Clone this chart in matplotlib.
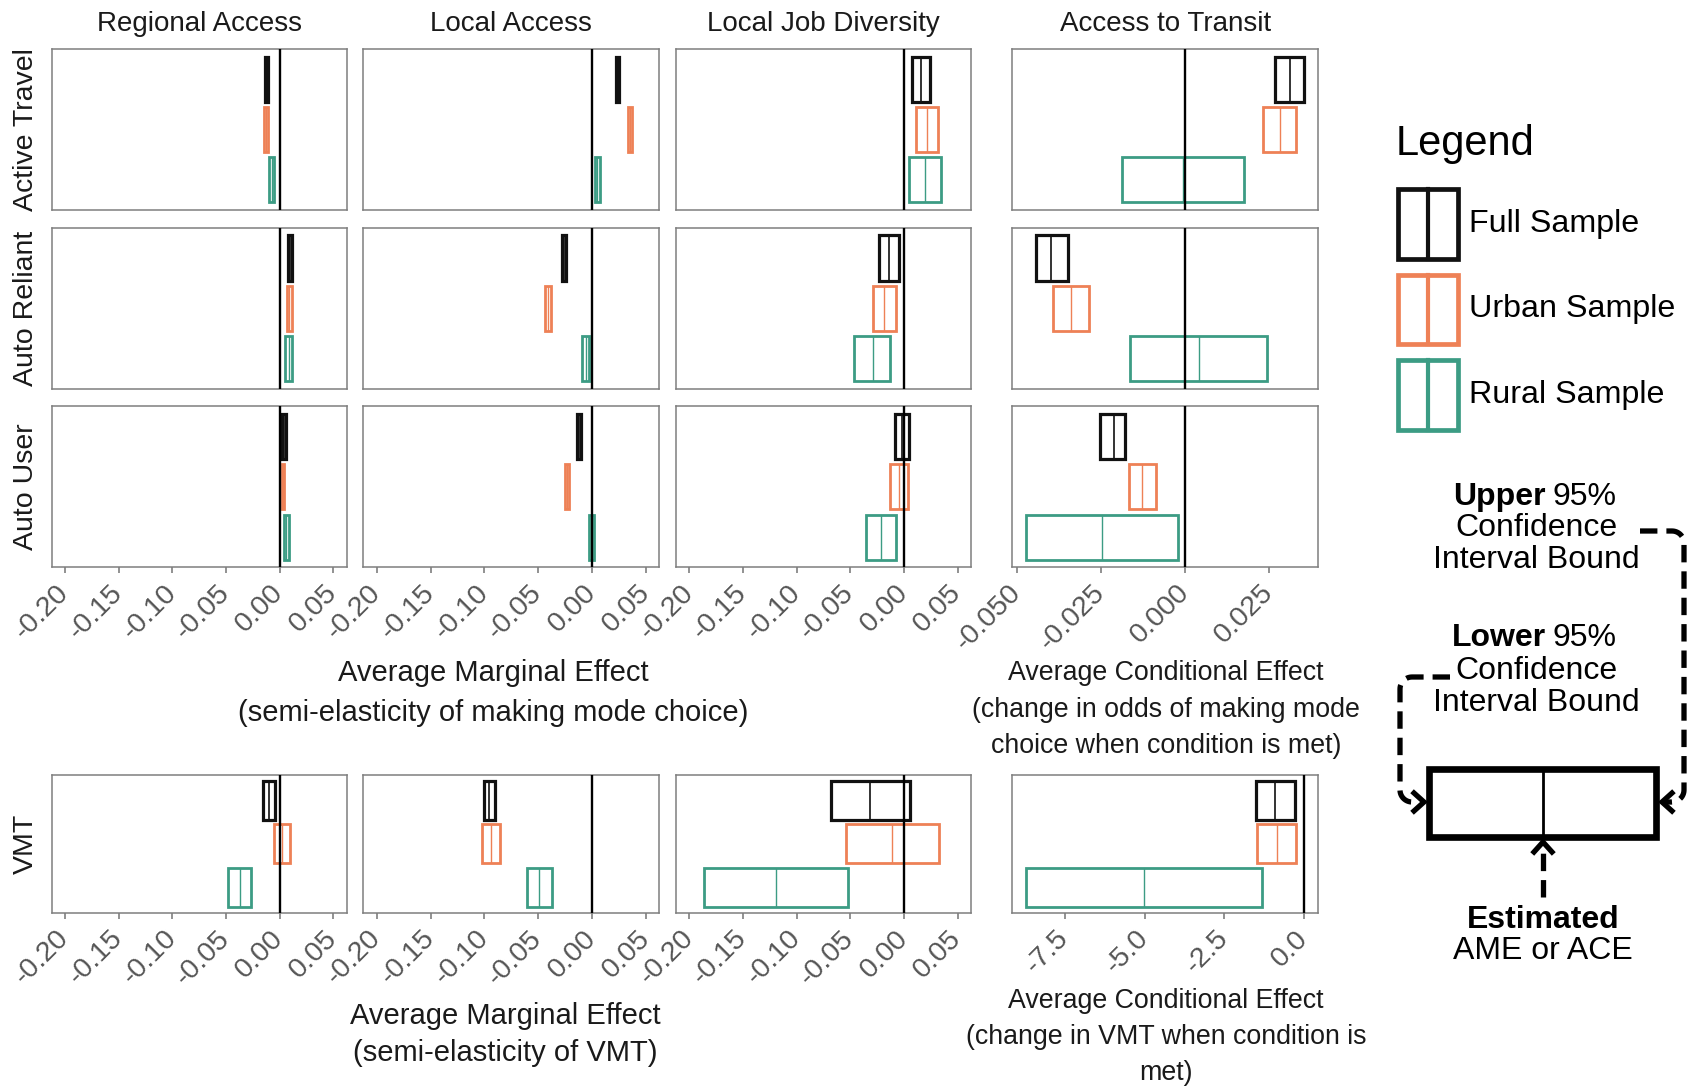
import numpy as np
import matplotlib
matplotlib.use("Agg")
import matplotlib.pyplot as plt
from matplotlib.patches import Rectangle

plt.rcParams['font.family'] = ['Liberation Sans', 'DejaVu Sans']

# ------------------------------------------------------------------ data
outcomes = ['Active Travel', 'Auto Reliant', 'Auto User', 'VMT']
variables = ['Regional Access', 'Local Access', 'Local Job Diversity', 'Access to Transit']
samples = ['Full Sample', 'Urban Sample', 'Rural Sample']
sample_colors = ['#111111', '#EE8156', '#3C9C84']

# rows = outcomes, columns = Full / Urban / Rural
regional_lo = [[-0.0134, -0.0142, -0.0097], [0.0081, 0.0069, 0.0052], [0.0023, 0.0019, 0.0036], [-0.0155, -0.0051, -0.0483]]
regional_est = [[-0.0120, -0.0124, -0.0075], [0.0100, 0.0090, 0.0083], [0.0040, 0.0030, 0.0060], [-0.0097, 0.0021, -0.0374]]
regional_hi = [[-0.0106, -0.0106, -0.0052], [0.0118, 0.0113, 0.0113], [0.0059, 0.0043, 0.0084], [-0.0040, 0.0093, -0.0268]]

local_lo = [[0.0223, 0.0331, 0.0023], [-0.0279, -0.0433, -0.0089], [-0.0139, -0.0255, -0.0029], [-0.1006, -0.1023, -0.0604]]
local_est = [[0.0237, 0.0353, 0.0047], [-0.0259, -0.0409, -0.0060], [-0.0122, -0.0234, -0.0003], [-0.0955, -0.0938, -0.0490]]
local_hi = [[0.0251, 0.0375, 0.0072], [-0.0239, -0.0385, -0.0031], [-0.0106, -0.0214, 0.0022], [-0.0904, -0.0854, -0.0371]]

jobdiv_lo = [[0.0074, 0.0113, 0.0046], [-0.0235, -0.0289, -0.0466], [-0.0087, -0.0129, -0.0356], [-0.0684, -0.0544, -0.1864]]
jobdiv_est = [[0.0156, 0.0211, 0.0199], [-0.0141, -0.0184, -0.0293], [-0.0020, -0.0047, -0.0215], [-0.0316, -0.0109, -0.1191]]
jobdiv_hi = [[0.0243, 0.0313, 0.0344], [-0.0046, -0.0077, -0.0128], [0.0048, 0.0036, -0.0074], [0.0052, 0.0325, -0.0519]]

transit_lo = [[0.0268, 0.0230, -0.0188], [-0.0446, -0.0395, -0.0164], [-0.0253, -0.0169, -0.0474], [-1.52, -1.49, -8.70]]
transit_est = [[0.0311, 0.0280, -0.0006], [-0.0399, -0.0341, 0.0039], [-0.0214, -0.0128, -0.0247], [-0.91, -0.87, -5.01]]
transit_hi = [[0.0354, 0.0328, 0.0175], [-0.0350, -0.0288, 0.0243], [-0.0179, -0.0088, -0.0021], [-0.30, -0.25, -1.33]]

ame_ticks = [-0.20, -0.15, -0.10, -0.05, 0.00, 0.05]
ace_ticks = [-0.050, -0.025, 0.000, 0.025]
ace_vmt_ticks = [-7.5, -5.0, -2.5, 0.0]

los = [regional_lo, local_lo, jobdiv_lo, transit_lo]
ests = [regional_est, local_est, jobdiv_est, transit_est]
his = [regional_hi, local_hi, jobdiv_hi, transit_hi]

# ------------------------------------------------------------------ layout (pixels)
W, H = 1694, 1089
col_x = [(51.7, 346.7), (363.3, 659.3), (676, 971), (1012.3, 1318.3)]
row_y = [(49, 210), (227.7, 389), (406.4, 567.3), (774.6, 913)]
frame_col = '#7f7f7f'
tick_col = '#555555'
txt_col = '#1a1a1a'

fig = plt.figure(figsize=(W / 100, H / 100), dpi=100)


def px_axes(x0, x1, y0, y1):
    return fig.add_axes([x0 / W, 1 - y1 / H, (x1 - x0) / W, (y1 - y0) / H])


def expand(lo, hi, f=0.05):
    r = hi - lo
    return lo - f * r, hi + f * r


ypos = np.array([3, 2, 1])
for r, outcome in enumerate(outcomes):
    for c, var in enumerate(variables):
        ax = px_axes(col_x[c][0], col_x[c][1], row_y[r][0], row_y[r][1])
        lo = np.array(los[c][r])
        est = np.array(ests[c][r])
        hi = np.array(his[c][r])
        for i in range(3):
            lw = 2.3 if i == 0 else 2.0
            ax.barh(ypos[i], hi[i] - lo[i], left=lo[i], height=0.9, fill=False,
                    edgecolor=sample_colors[i], linewidth=lw, zorder=2)
            ax.vlines(est[i], ypos[i] - 0.45, ypos[i] + 0.45, color=sample_colors[i],
                      linewidth=1.2 if i == 0 else 1.0, zorder=2)
        ax.axvline(0, color='black', linewidth=1.7, zorder=3)
        ax.set_ylim(0.4, 3.6)
        ax.set_yticks([])
        if c < 3:
            ax.set_xlim(*expand(-0.20, 0.05))
            ticks = ame_ticks
            labels = ['%.2f' % t for t in ticks]
        else:
            if r < 3:
                all_lo = np.min(np.array(transit_lo[:3]))
                all_hi = max(np.max(np.array(transit_hi[:3])), 0)
                ticks = ace_ticks
                labels = ['%.3f' % t for t in ticks]
            else:
                all_lo = min(transit_lo[3])
                all_hi = max(max(transit_hi[3]), 0)
                ticks = ace_vmt_ticks
                labels = ['%.1f' % t for t in ticks]
            ax.set_xlim(*expand(all_lo, all_hi))
        for s in ax.spines.values():
            s.set_color(frame_col)
            s.set_linewidth(1.1)
        if r == 2 or r == 3:
            ax.set_xticks(ticks)
            ax.set_xticklabels(labels, rotation=45, ha='right', va='center',
                               rotation_mode='anchor', fontsize=20.5, color=tick_col)
            ax.tick_params(axis='x', length=4.5, width=1.2, color=frame_col, pad=11)
        else:
            ax.set_xticks([])

# ------------------------------------------------------------------ overlay for texts and legend
ov = fig.add_axes([0, 0, 1, 1])
ov.set_xlim(0, W)
ov.set_ylim(H, 0)
ov.axis('off')

for c, var in enumerate(variables):
    ov.text((col_x[c][0] + col_x[c][1]) / 2, 24, var, ha='center', va='center', fontsize=20, color=txt_col)
for r, outcome in enumerate(outcomes):
    ov.text(26, (row_y[r][0] + row_y[r][1]) / 2, outcome, rotation=90, ha='center', va='center',
            fontsize=20.5, color=txt_col)

ov.text(493, 673, 'Average Marginal Effect', ha='center', va='center', fontsize=21, color=txt_col)
ov.text(493, 713, '(semi-elasticity of making mode choice)', ha='center', va='center', fontsize=21, color=txt_col)
ov.text(1166, 673, 'Average Conditional Effect', ha='center', va='center', fontsize=19.3, color=txt_col)
ov.text(1166, 710, '(change in odds of making mode', ha='center', va='center', fontsize=19.3, color=txt_col)
ov.text(1166, 746, 'choice when condition is met)', ha='center', va='center', fontsize=19.3, color=txt_col)

ov.text(505, 1016, 'Average Marginal Effect', ha='center', va='center', fontsize=21, color=txt_col)
ov.text(505, 1053, '(semi-elasticity of VMT)', ha='center', va='center', fontsize=21, color=txt_col)
ov.text(1166, 1001, 'Average Conditional Effect', ha='center', va='center', fontsize=19.3, color=txt_col)
ov.text(1166, 1037, '(change in VMT when condition is', ha='center', va='center', fontsize=19.3, color=txt_col)
ov.text(1166, 1073, 'met)', ha='center', va='center', fontsize=19.3, color=txt_col)

# legend keys
ov.text(1396, 144, 'Legend', ha='left', va='center', fontsize=30, color='black')
key_y = [(189, 259), (275, 344), (360, 430)]
for i, name in enumerate(samples):
    y0, y1 = key_y[i]
    ov.add_patch(Rectangle((1398, y0), 60, y1 - y0, fill=False, edgecolor=sample_colors[i], linewidth=3.4))
    ov.plot([1428, 1428], [y0, y1], color=sample_colors[i], linewidth=3.0)
    ov.text(1469, (y0 + y1) / 2, name, ha='left', va='center', fontsize=23.2, color='black')

# explanation box
fs = 23
ov.text(1546, 497, 'Upper', ha='right', va='center', fontsize=fs, fontweight='bold')
ov.text(1552, 497, '95%', ha='left', va='center', fontsize=fs)
ov.text(1536, 528, 'Confidence', ha='center', va='center', fontsize=fs)
ov.text(1536, 560, 'Interval Bound', ha='center', va='center', fontsize=fs)
ov.text(1546, 638, 'Lower', ha='right', va='center', fontsize=fs, fontweight='bold')
ov.text(1552, 638, '95%', ha='left', va='center', fontsize=fs)
ov.text(1536, 671, 'Confidence', ha='center', va='center', fontsize=fs)
ov.text(1536, 703, 'Interval Bound', ha='center', va='center', fontsize=fs)
ov.text(1543, 920, 'Estimated', ha='center', va='center', fontsize=fs, fontweight='bold')
ov.text(1543, 951, 'AME or ACE', ha='center', va='center', fontsize=fs)

ov.add_patch(Rectangle((1429, 769), 227, 68, fill=False, edgecolor='black', linewidth=4.8))
ov.plot([1543, 1543], [769, 837], color='black', linewidth=2)


def arc(cx, cy, rad, a0, a1):
    t = np.radians(np.linspace(a0, a1, 12))
    return cx + rad * np.cos(t), cy + rad * np.sin(t)


dash = (0, (3.3, 1.7))
lwd = 3.8
# upper bracket (right side)
ax1, ay1 = arc(1672, 543, 12, -90, 0)
ax2, ay2 = arc(1672, 790, 12, 0, 90)
xs = np.concatenate([[1640], ax1, ax2, [1666]])
ys = np.concatenate([[531], ay1, ay2, [802]])
ov.plot(xs, ys, color='black', linewidth=lwd, linestyle=dash)
ov.plot([1672, 1662, 1672], [793, 802, 811], color='black', linewidth=lwd, solid_joinstyle='miter')
# lower bracket (left side)
bx1, by1 = arc(1412, 689, 12, 270, 180)
bx2, by2 = arc(1412, 790, 12, 180, 90)
xs = np.concatenate([[1450], bx1, bx2, [1420]])
ys = np.concatenate([[677], by1, by2, [802]])
ov.plot(xs, ys, color='black', linewidth=lwd, linestyle=dash)
ov.plot([1414, 1424, 1414], [793, 802, 811], color='black', linewidth=lwd, solid_joinstyle='miter')
# estimate arrow
ov.plot([1543, 1543], [897, 848], color='black', linewidth=lwd, linestyle=dash)
ov.plot([1534, 1543, 1552], [852, 842, 852], color='black', linewidth=lwd, solid_joinstyle='miter')

fig.savefig('out.png', dpi=100)
